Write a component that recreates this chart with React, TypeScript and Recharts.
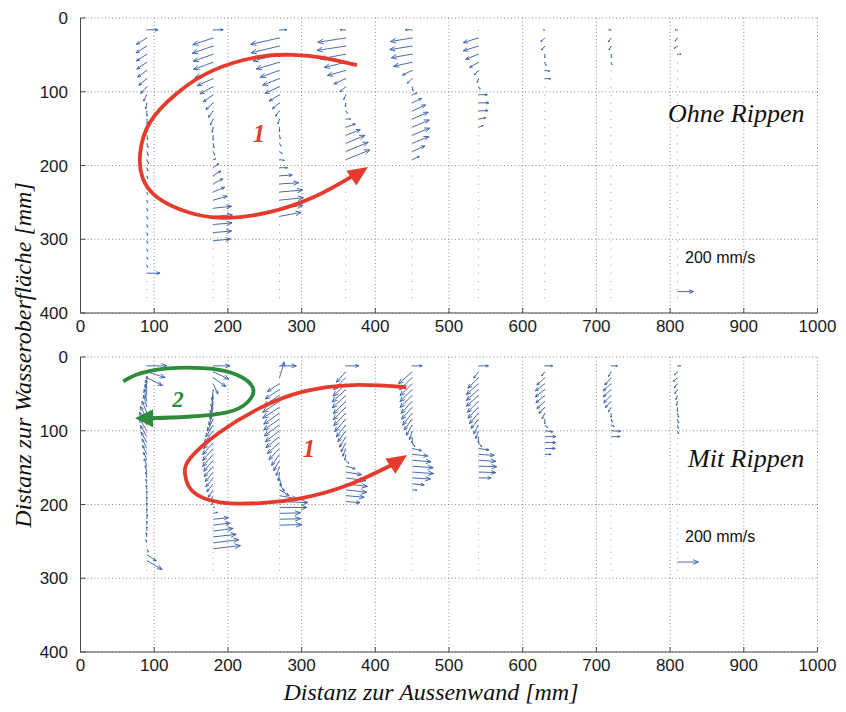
import React from 'react';
import { ScatterChart, Scatter, XAxis, YAxis, CartesianGrid, ReferenceLine } from 'recharts';

// [depth mm, u mm/s (+ right), w mm/s (+ down)]
type Vec = [number, number, number];

const xTicks = [0, 100, 200, 300, 400, 500, 600, 700, 800, 900, 1000];
const yTicks = [0, 100, 200, 300, 400];
const columnX = [90, 180, 270, 360, 450, 540, 630, 720, 810];

// ---- Ohne Rippen (top) ----
const ohneCol1: Vec[] = [
  [16, 140, 0], [27, -130, 80], [38, -135, 85], [49, -130, 85], [60, -125, 85], [71, -115, 85],
  [82, -100, 85], [93, -75, 85], [104, -40, 80], [115, -15, 75], [126, 0, 65], [137, 5, 60],
  [148, 8, 55], [159, 10, 55], [170, 15, 50], [181, 18, 50], [192, 20, 50], [203, 15, 40],
  [214, 12, 35], [225, 10, 35], [236, 10, 35], [247, 10, 35], [258, 10, 35], [269, 10, 35],
  [280, 10, 35], [291, 10, 35], [302, 10, 32], [313, 10, 32], [324, 10, 30], [335, 10, 30],
  [346, 165, 0],
];
const ohneCol2: Vec[] = [
  [16, 125, 0], [27, -255, 85], [38, -260, 90], [49, -250, 90], [60, -245, 90], [71, -225, 90],
  [82, -200, 90], [93, -165, 90], [104, -125, 90], [115, -90, 85], [126, -60, 80], [137, -35, 75],
  [148, -12, 65], [159, 0, 60], [170, 10, 55], [181, 20, 45], [192, 35, -10], [203, 70, -50],
  [214, 95, -60], [225, 120, -65], [236, 145, -60], [247, 175, -50], [258, 230, -25],
  [269, 240, -20], [280, 235, -20], [291, 230, -20], [302, 215, -20],
];
const ohneCol3: Vec[] = [
  [16, 90, 0], [27, -360, 80], [38, -355, 85], [49, -330, 85], [60, -290, 85], [71, -240, 85],
  [82, -210, 85], [93, -180, 85], [104, -130, 80], [115, -90, 75], [126, -50, 65], [137, -20, 60],
  [148, 0, 55], [159, 10, 45], [170, 20, 35], [181, 35, 25], [192, 60, 10], [203, 100, 0],
  [214, 160, -10], [225, 240, -15], [236, 290, -25], [247, 300, -30], [258, 290, -35],
  [269, 270, -50],
];
const ohneCol4: Vec[] = [
  [16, -70, 0], [27, -350, 55], [38, -360, 55], [49, -320, 60], [60, -270, 65], [71, -230, 65],
  [82, -150, 70], [93, -70, 65], [104, -25, 60], [115, -5, 50], [126, 20, 30], [137, 60, 0],
  [148, 120, -40], [159, 180, -70], [170, 240, -100], [181, 280, -115], [192, 300, -120],
];
const ohneCol5: Vec[] = [
  [16, -85, 0], [27, -270, 45], [38, -280, 45], [49, -260, 45], [60, -230, 50], [71, -120, 60],
  [82, -60, 60], [93, 10, 50], [104, 60, -20], [115, 120, -55], [126, 170, -75], [137, 200, -85],
  [148, 215, -90], [159, 220, -90], [170, 210, -85], [181, 160, -70], [192, 90, -40],
];
const ohneCol6: Vec[] = [
  [27, -190, 60], [38, -190, 60], [49, -160, 65], [60, -110, 65], [71, -50, 55], [82, -15, 50],
  [93, 20, 30], [104, 110, 0], [115, 130, 0], [126, 120, -5], [137, 90, -15], [148, 60, -20],
];
const ohneCol7: Vec[] = [
  [16, -20, 0], [27, -50, 45], [38, -40, 50], [49, 0, 45], [60, 15, 40], [71, 60, 10], [82, 70, 5],
];
const ohneCol8: Vec[] = [[16, -30, 0], [27, -35, 50], [38, -25, 50], [49, 5, 45], [60, 10, 30]];
const ohneCol9: Vec[] = [[16, -30, 0], [27, -30, 40], [38, -40, 30], [49, 45, 0]];
const ohneKey: Vec = [371, 200, 0];
const ohneStations = [16, 385];

// ---- Mit Rippen (bottom) ----
const mitCol1: Vec[] = [
  [12, 190, 0], [20, 175, 55], [28, 150, 75], [36, 0, -70], [44, -10, -90], [52, -15, -105],
  [60, -25, -115], [68, -30, -115], [76, -45, -115], [84, -60, -120], [92, -70, -120],
  [100, -70, -115], [108, -60, -105], [116, -55, -100], [124, -45, -90], [132, -40, -85],
  [140, -30, -75], [148, -25, -70], [156, -15, -60], [164, -10, -55], [172, -10, -45],
  [180, -5, -45], [188, 0, -45], [196, 0, -45], [204, 0, -45], [212, 0, -45], [220, 5, -45],
  [228, 0, -40], [236, 0, -40], [244, -5, -40], [252, -10, -30], [260, 15, 30], [268, 90, 60],
  [276, 145, 85],
];
const mitCol2: Vec[] = [
  [12, 160, 0], [20, 150, 70], [28, 120, 85], [36, 45, 100], [44, -10, 105], [52, -15, 115],
  [60, -25, 115], [68, -30, 115], [76, -40, 115], [84, -55, 115], [92, -70, 115], [100, -85, 115],
  [108, -90, 115], [116, -100, 115], [124, -100, 115], [132, -100, 115], [140, -90, 105],
  [148, -85, 100], [156, -75, 90], [164, -70, 85], [172, -60, 75], [180, -45, 70], [188, -30, 55],
  [196, -15, 30], [204, 15, 0], [212, 45, -10], [220, 145, -15], [228, 160, -20], [236, 190, -25],
  [244, 220, -25], [252, 245, -30], [260, 260, -30],
];
const mitCol3: Vec[] = [
  [12, 160, 0], [28, 45, -150], [36, -115, 75], [44, -135, 90], [52, -150, 100], [60, -160, 105],
  [68, -160, 105], [76, -150, 105], [84, -150, 105], [92, -145, 105], [100, -135, 105],
  [108, -130, 105], [116, -115, 105], [124, -100, 105], [132, -75, 105], [140, -55, 100],
  [148, -30, 90], [156, -10, 85], [164, 15, 75], [172, 45, 70], [180, 90, 55], [188, 170, 30],
  [196, 270, 10], [204, 260, 0], [212, 200, -5], [220, 200, -5], [228, 210, -5],
];
const mitCol4: Vec[] = [
  [12, 125, 0], [20, -90, 100], [28, -115, 115], [36, -120, 120], [44, -130, 120], [52, -130, 120],
  [60, -120, 120], [68, -120, 120], [76, -115, 120], [84, -105, 120], [92, -90, 115],
  [100, -75, 105], [108, -60, 100], [116, -45, 90], [124, -30, 75], [132, -10, 55], [140, 30, 30],
  [148, 90, 25], [156, 150, 25], [164, 190, 25], [172, 205, 25], [180, 200, 25], [188, 175, 15],
  [196, 135, 10],
];
const mitCol5: Vec[] = [
  [12, 95, 0], [20, -130, 115], [28, -120, 115], [36, -115, 115], [44, -115, 115], [52, -115, 115],
  [60, -105, 115], [68, -100, 115], [76, -90, 115], [84, -75, 105], [92, -55, 100], [100, -25, 85],
  [108, 0, 60], [116, 25, 40], [124, 90, 20], [132, 150, 15], [140, 180, 15], [148, 200, 15],
  [156, 205, 15], [164, 175, 10], [172, 115, 10], [180, 45, 5],
];
const mitCol6: Vec[] = [
  [12, 95, 0], [20, -45, 60], [28, -100, 100], [36, -115, 105], [44, -115, 105], [52, -115, 105],
  [60, -105, 105], [68, -100, 105], [76, -85, 100], [84, -70, 90], [92, -45, 85], [100, -25, 75],
  [108, 0, 60], [116, 30, 40], [124, 100, 15], [132, 150, 10], [140, 165, 10], [148, 175, 5],
  [156, 165, 5], [164, 120, 0],
];
const mitCol7: Vec[] = [
  [12, 75, 0], [20, -30, 40], [28, -75, 70], [36, -90, 70], [44, -90, 70], [52, -85, 70],
  [60, -75, 70], [68, -55, 60], [76, -25, 55], [84, 0, 45], [92, 25, 25], [100, 75, 10],
  [108, 105, 0], [116, 105, 0], [124, 100, 0], [132, 60, 0],
];
const mitCol8: Vec[] = [
  [12, 60, 0], [20, -25, 45], [28, -60, 70], [36, -75, 70], [44, -75, 70], [52, -70, 70],
  [60, -55, 60], [68, -25, 45], [76, 0, 40], [84, 10, 30], [92, 30, 15], [100, 90, 5], [108, 85, 0],
];
const mitCol9: Vec[] = [
  [12, 30, 0], [20, -30, 30], [28, -40, 35], [36, -30, 40], [44, -25, 40], [52, -15, 40],
  [60, -10, 40], [68, 0, 40], [76, 10, 40], [84, 10, 40], [92, 10, 35], [100, 10, 30],
];
const mitKey: Vec = [278, 200, 0];
const mitStations = [12, 290];

// circulation loops, [x mm, depth mm]
const ohneLoop1: [number, number][] = [
  [375, 64], [330, 54], [288, 50], [240, 53], [180, 71], [131, 102], [94, 142], [81, 183],
  [84, 216], [104, 243], [145, 263], [193, 271], [253, 264], [316, 243], [368, 215],
];
const mitLoop1: [number, number][] = [
  [442, 41], [370, 38], [302, 47], [244, 69], [189, 102], [149, 137], [142, 160], [153, 183],
  [189, 197], [244, 198], [302, 191], [362, 174], [423, 146],
];
const mitLoop2: [number, number][] = [
  [58, 33], [98, 18], [166, 15], [212, 24], [234, 42], [227, 61], [199, 75], [145, 81], [97, 83],
];

const RED = '#e63a2d';
const GREEN = '#2f8a3c';
const BLUE = '#3a5fa8';
const FRAME = '#4a4a4a';

const buildQuiver = (cols: Vec[][], key: Vec) => [
  ...cols.flatMap((col, i) => col.map(([y, u, w]) => ({ x: columnX[i], y, u, w }))),
  { x: 810, y: key[0], u: key[1], w: key[2] },
];

const ohneQuiver = buildQuiver(
  [ohneCol1, ohneCol2, ohneCol3, ohneCol4, ohneCol5, ohneCol6, ohneCol7, ohneCol8, ohneCol9],
  ohneKey
);
const mitQuiver = buildQuiver(
  [mitCol1, mitCol2, mitCol3, mitCol4, mitCol5, mitCol6, mitCol7, mitCol8, mitCol9],
  mitKey
);

function QuiverArrow(props: any) {
  const { cx, cy, payload, k } = props;
  const dx = payload.u * k;
  const dy = payload.w * k;
  const len = Math.hypot(dx, dy);
  if (!len || len < 0.4) return <g />;
  const x2 = cx + dx;
  const y2 = cy + dy;
  const ux = dx / len;
  const uy = dy / len;
  const h = Math.min(0.3 * len, 6);
  const c = Math.cos(0.4);
  const s = Math.sin(0.4);
  const b1x = x2 - h * (ux * c - uy * s);
  const b1y = y2 - h * (uy * c + ux * s);
  const b2x = x2 - h * (ux * c + uy * s);
  const b2y = y2 - h * (uy * c - ux * s);
  return (
    <g stroke={BLUE} strokeWidth={1} fill="none" strokeOpacity={0.92}>
      <line x1={cx} y1={cy} x2={x2} y2={y2} />
      <polyline points={`${b1x},${b1y} ${x2},${y2} ${b2x},${b2y}`} />
    </g>
  );
}

function Head(props: any) {
  const { cx, cy, payload } = props;
  const a = (payload.angle * Math.PI) / 180;
  const bx = cx - payload.len * Math.cos(a);
  const by = cy - payload.len * Math.sin(a);
  const nx = -Math.sin(a) * payload.hw;
  const ny = Math.cos(a) * payload.hw;
  return (
    <polygon
      points={`${cx},${cy} ${bx + nx},${by + ny} ${bx - nx},${by - ny}`}
      fill={payload.color}
    />
  );
}

const tickFont = { fill: '#1a1a1a', fontSize: 17, fontFamily: 'Liberation Sans, Arial, sans-serif' };

type Loop = { pts: [number, number][]; color: string };
type Tip = { x: number; y: number; angle: number; len: number; hw: number; color: string };

function Panel(props: {
  top: number;
  height: number;
  bottom: number;
  quiver: any[];
  k: number;
  stations: number[];
  dash: string;
  loops: Loop[];
  tips: Tip[];
}) {
  const { top, height, bottom, quiver, k, stations, dash, loops, tips } = props;
  return (
    <div style={{ position: 'absolute', left: 0, top }}>
      <ScatterChart width={846} height={height} margin={{ top: 18, right: 28.5, bottom, left: 30 }}>
        <CartesianGrid stroke="#8c8c8c" strokeDasharray="1 2.5" />
        <XAxis
          type="number"
          dataKey="x"
          domain={[0, 1000]}
          ticks={xTicks}
          interval={0}
          height={27}
          tickSize={-5}
          tickMargin={12}
          axisLine={{ stroke: FRAME }}
          tickLine={{ stroke: FRAME }}
          tick={tickFont}
        />
        <YAxis
          type="number"
          dataKey="y"
          domain={[0, 400]}
          reversed
          ticks={yTicks}
          interval={0}
          width={50.5}
          tickSize={-5}
          tickMargin={17.5}
          axisLine={{ stroke: FRAME }}
          tickLine={{ stroke: FRAME }}
          tick={tickFont}
        />
        <XAxis
          xAxisId="t"
          orientation="top"
          type="number"
          domain={[0, 1000]}
          ticks={xTicks}
          interval={0}
          height={0}
          tickSize={-5}
          tick={false}
          axisLine={{ stroke: FRAME }}
          tickLine={{ stroke: FRAME }}
        />
        <YAxis
          yAxisId="r"
          orientation="right"
          type="number"
          domain={[0, 400]}
          reversed
          ticks={yTicks}
          interval={0}
          width={0}
          tickSize={-5}
          tick={false}
          axisLine={{ stroke: FRAME }}
          tickLine={{ stroke: FRAME }}
        />
        {columnX.map((x) => (
          <ReferenceLine
            key={x}
            segment={[{ x, y: stations[0] }, { x, y: stations[1] }]}
            stroke="#ababab"
            strokeDasharray={dash}
          />
        ))}
        <Scatter
          data={quiver}
          isAnimationActive={false}
          shape={(p: any) => <QuiverArrow {...p} k={k} />}
        />
        {loops.map((l, i) => (
          <Scatter
            key={i}
            data={l.pts.map(([x, y]) => ({ x, y }))}
            line={{ stroke: l.color, strokeWidth: 3.8 }}
            lineJointType="natural"
            shape={() => <g />}
            isAnimationActive={false}
          />
        ))}
        <Scatter data={tips} shape={(p: any) => <Head {...p} />} isAnimationActive={false} />
      </ScatterChart>
    </div>
  );
}

const serif = 'Liberation Serif, Times New Roman, serif';
const sans = 'Liberation Sans, Arial, sans-serif';

export default function App() {
  return (
    <div style={{ position: 'absolute', left: 0, top: 0, width: 846, height: 712, background: '#fff' }}>
      <Panel
        top={0}
        height={340}
        bottom={0}
        quiver={ohneQuiver}
        k={16 / 200}
        stations={ohneStations}
        dash="1.2 6.9"
        loops={[{ pts: ohneLoop1, color: RED }]}
        tips={[{ x: 390, y: 202, angle: -34, len: 20, hw: 9, color: RED }]}
      />
      <Panel
        top={339}
        height={373}
        bottom={33}
        quiver={mitQuiver}
        k={21 / 200}
        stations={mitStations}
        dash="1 5"
        loops={[
          { pts: mitLoop1, color: RED },
          { pts: mitLoop2, color: GREEN },
        ]}
        tips={[
          { x: 443, y: 133, angle: -34, len: 20, hw: 9, color: RED },
          { x: 74, y: 83, angle: 180, len: 18, hw: 9, color: GREEN },
        ]}
      />
      <svg
        width={846}
        height={712}
        style={{ position: 'absolute', left: 0, top: 0, pointerEvents: 'none' }}
      >
        <text x={668} y={122} fontFamily={serif} fontStyle="italic" fontSize={26} fill="#111">
          Ohne Rippen
        </text>
        <text x={688} y={467} fontFamily={serif} fontStyle="italic" fontSize={26} fill="#111">
          Mit Rippen
        </text>
        <text x={685} y={263} fontFamily={sans} fontSize={16} fill="#111">
          200 mm/s
        </text>
        <text x={685} y={542} fontFamily={sans} fontSize={16} fill="#111">
          200 mm/s
        </text>
        <text x={259} y={142} textAnchor="middle" fontFamily={serif} fontStyle="italic" fontWeight="bold" fontSize={25} fill={RED}>
          1
        </text>
        <text x={309} y={457} textAnchor="middle" fontFamily={serif} fontStyle="italic" fontWeight="bold" fontSize={25} fill={RED}>
          1
        </text>
        <text x={178} y={407} textAnchor="middle" fontFamily={serif} fontStyle="italic" fontWeight="bold" fontSize={23} fill={GREEN}>
          2
        </text>
        <text x={431} y={700} textAnchor="middle" fontFamily={serif} fontStyle="italic" fontSize={24} fill="#111">
          Distanz zur Aussenwand [mm]
        </text>
        <text
          x={0}
          y={0}
          transform="translate(31,355) rotate(-90)"
          textAnchor="middle"
          fontFamily={serif}
          fontStyle="italic"
          fontSize={24}
          fill="#111"
        >
          Distanz zur Wasseroberfläche [mm]
        </text>
      </svg>
    </div>
  );
}
